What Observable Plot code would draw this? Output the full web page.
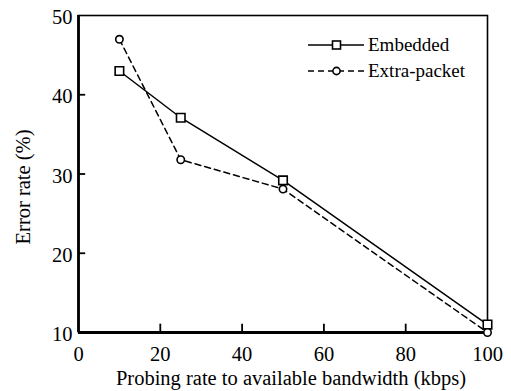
<!DOCTYPE html>
<html><head><meta charset="utf-8">
<script src="https://cdn.jsdelivr.net/npm/d3@7"></script>
<script src="https://cdn.jsdelivr.net/npm/@observablehq/plot@0.6"></script>
<style>
body{margin:0;background:#fff;}
#wrap{position:relative;width:511px;height:391px;}
#legend{position:absolute;left:0;top:0;}
</style></head>
<body><div id="wrap"></div>
<script>
const rates = [10, 25, 50, 100];
const embedded = [43, 37.1, 29.2, 11];
const extraPacket = [47, 31.8, 28.1, 10];
const xTicks = [0, 20, 40, 60, 80, 100];
const yTicks = [10, 20, 30, 40, 50];
const seriesNames = ["Embedded", "Extra-packet"];
const FONT = "Liberation Serif, Times New Roman, serif";

const emb = rates.map((x, i) => ({x, y: embedded[i]}));
const ext = rates.map((x, i) => ({x, y: extraPacket[i]}));

const chart = Plot.plot({
  width: 511, height: 391,
  marginLeft: 78, marginRight: 24, marginTop: 15, marginBottom: 59,
  style: {fontSize: "20px", color: "#000", background: "#fff", fontFamily: FONT},
  x: {domain: [0, 100], ticks: xTicks},
  y: {domain: [10, 50], ticks: yTicks},
  marks: [
    Plot.frame({stroke: "#000", strokeWidth: 1.6}),
    Plot.ruleX(xTicks.slice(1, -1), {y1: 10, y2: 11.05, stroke: "#000", strokeWidth: 1.8}),
    Plot.ruleY(yTicks.slice(1, -1), {x1: 0, x2: 1.75, stroke: "#000", strokeWidth: 1.8}),
    Plot.ruleY([10], {stroke: "#000", strokeWidth: 2.8}),
    Plot.ruleX([0], {stroke: "#000", strokeWidth: 2.8}),
    Plot.axisX({ticks: xTicks, tickSize: 0, tickPadding: 14, fontSize: 20.5, label: null, fontFamily: FONT}),
    Plot.axisY({ticks: yTicks, tickSize: 0, tickPadding: 6, dy: 2, fontSize: 20.5, label: null, fontFamily: FONT}),
    Plot.line(emb, {x: "x", y: "y", stroke: "#000", strokeWidth: 1.5}),
    Plot.line(ext, {x: "x", y: "y", stroke: "#000", strokeWidth: 1.5, strokeDasharray: "6,4"}),
    Plot.dot(emb, {x: "x", y: "y", symbol: "square", r: 4.8, stroke: "#000", strokeWidth: 1.6, fill: "#fff"}),
    Plot.dot(ext, {x: "x", y: "y", symbol: "circle", r: 3.7, stroke: "#000", strokeWidth: 1.6, fill: "#fff"}),
    Plot.text(["Probing rate to available bandwidth (kbps)"], {frameAnchor: "bottom", textAnchor: "middle", lineAnchor: "middle", dx: 8, dy: 46, fontSize: 20.5, fontFamily: FONT}),
    Plot.text(["Error rate (%)"], {frameAnchor: "left", textAnchor: "middle", lineAnchor: "middle", dx: -55, dy: 13, rotate: -90, fontSize: 20.5, fontFamily: FONT})
  ]
});
document.getElementById("wrap").appendChild(chart);

// legend overlay
const ns = "http://www.w3.org/2000/svg";
const lg = document.createElementNS(ns, "svg");
lg.setAttribute("id", "legend");
lg.setAttribute("width", 511); lg.setAttribute("height", 391);
const entries = [
  {name: seriesNames[0], y: 45, dash: null, sym: "square"},
  {name: seriesNames[1], y: 71, dash: "6,4", sym: "circle"}
];
for (const e of entries) {
  const l = document.createElementNS(ns, "line");
  l.setAttribute("x1", 308); l.setAttribute("x2", 364);
  l.setAttribute("y1", e.y); l.setAttribute("y2", e.y);
  l.setAttribute("stroke", "#000"); l.setAttribute("stroke-width", 1.5);
  if (e.dash) l.setAttribute("stroke-dasharray", e.dash);
  lg.appendChild(l);
  let m;
  if (e.sym === "square") {
    m = document.createElementNS(ns, "rect");
    m.setAttribute("x", 332.5); m.setAttribute("y", e.y - 4);
    m.setAttribute("width", 8); m.setAttribute("height", 8);
  } else {
    m = document.createElementNS(ns, "circle");
    m.setAttribute("cx", 336.5); m.setAttribute("cy", e.y); m.setAttribute("r", 3.6);
  }
  m.setAttribute("fill", "#fff"); m.setAttribute("stroke", "#000"); m.setAttribute("stroke-width", 1.6);
  lg.appendChild(m);
  const t = document.createElementNS(ns, "text");
  t.setAttribute("x", 368); t.setAttribute("y", e.y + 6);
  t.setAttribute("font-size", 19);
  t.setAttribute("font-family", FONT);
  t.textContent = e.name;
  lg.appendChild(t);
}
document.getElementById("wrap").appendChild(lg);
</script></body></html>
